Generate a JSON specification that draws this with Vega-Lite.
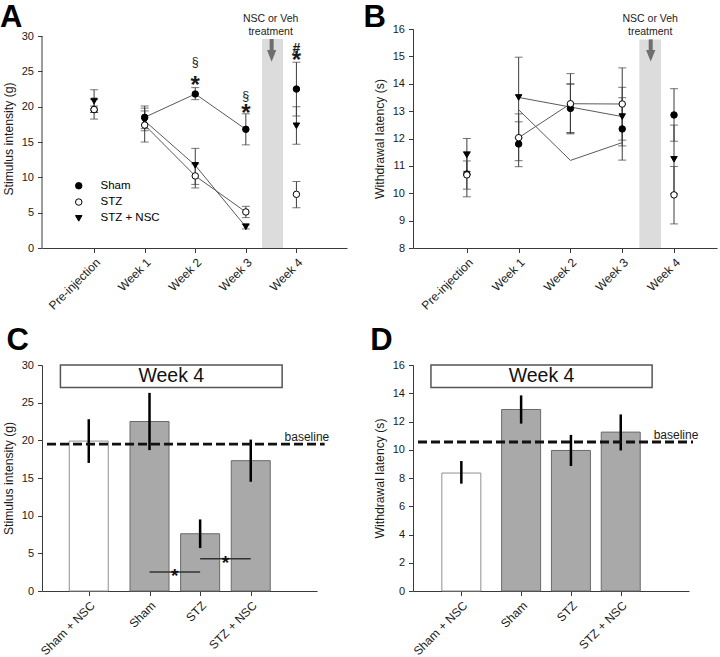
{
  "$schema": "https://vega.github.io/schema/vega-lite/v6.json",
  "autosize": {"type": "none"},
  "padding": {"left": 42, "top": 29, "right": 678, "bottom": 628},
  "background": "white",
  "config": {
    "font": "Liberation Sans",
    "view": {"stroke": null},
    "axis": {"grid": false, "domainColor": "#3a3a3a", "tickColor": "#3a3a3a", "labelColor": "#1a1a1a", "titleColor": "#1a1a1a", "labelFontSize": 11, "titleFontSize": 12.2, "titleFontWeight": "normal", "tickSize": 4.5, "labelPadding": 4, "titlePadding": 6, "domainWidth": 1, "tickWidth": 1, "labelOverlap": false, "tickCount": 20},
    "axisX": {"labelFontSize": 12},
    "axisY": {"format": "d"}
  },
  "resolve": {"scale": {"fill": "independent", "shape": "independent", "stroke": "independent"}, "legend": {"fill": "independent", "shape": "independent", "stroke": "independent"}},
  "datasets": {
    "A": [
      {"t": 1, "group": "STZ + NSC", "mean": 20.8, "lo": 19.2, "hi": 22.4},
      {"t": 2, "group": "STZ + NSC", "mean": 18.0, "lo": 16.6, "hi": 19.4},
      {"t": 3, "group": "STZ + NSC", "mean": 11.7, "lo": 9.0, "hi": 14.1},
      {"t": 4, "group": "STZ + NSC", "mean": 3.0, "lo": 2.7, "hi": 3.4},
      {"t": 5, "group": "STZ + NSC", "mean": 17.3, "lo": 14.7, "hi": 20.0},
      {"t": 1, "group": "Sham", "mean": 19.6, "lo": 19.2, "hi": 20.1},
      {"t": 2, "group": "Sham", "mean": 18.5, "lo": 16.9, "hi": 20.1},
      {"t": 3, "group": "Sham", "mean": 21.8, "lo": 21.0, "hi": 22.7},
      {"t": 4, "group": "Sham", "mean": 16.8, "lo": 14.6, "hi": 19.0},
      {"t": 5, "group": "Sham", "mean": 22.5, "lo": 18.7, "hi": 26.3},
      {"t": 1, "group": "STZ", "mean": 19.6, "lo": 18.25, "hi": 21.0},
      {"t": 2, "group": "STZ", "mean": 17.4, "lo": 15.0, "hi": 19.8},
      {"t": 3, "group": "STZ", "mean": 10.2, "lo": 8.5, "hi": 11.9},
      {"t": 4, "group": "STZ", "mean": 5.1, "lo": 4.3, "hi": 5.9},
      {"t": 5, "group": "STZ", "mean": 7.6, "lo": 5.7, "hi": 9.4}
    ],
    "Aann": [
      {"t": 3, "y": 26.2, "sym": "§"},
      {"t": 3, "y": 23.5, "sym": "*"},
      {"t": 4, "y": 21.4, "sym": "§"},
      {"t": 4, "y": 19.6, "sym": "*"},
      {"t": 5, "y": 28.3, "sym": "#"},
      {"t": 5, "y": 27.0, "sym": "*"}
    ],
    "B": [
      {"t": 1, "group": "STZ + NSC", "mean": 11.4, "lo": 10.8, "hi": 12.0},
      {"t": 2, "group": "STZ + NSC", "mean": 13.5, "lo": 12.03, "hi": 14.97},
      {"t": 3, "group": "STZ + NSC", "mean": 13.15, "lo": 12.2, "hi": 14.0},
      {"t": 4, "group": "STZ + NSC", "mean": 12.8, "lo": 11.73, "hi": 13.87},
      {"t": 5, "group": "STZ + NSC", "mean": 11.24, "lo": 9.99, "hi": 12.49},
      {"t": 1, "group": "Sham", "mean": 10.7, "lo": 9.87, "hi": 11.52},
      {"t": 2, "group": "Sham", "mean": 11.8, "lo": 10.97, "hi": 12.61},
      {"t": 3, "group": "Sham", "mean": 13.1, "lo": 12.22, "hi": 13.98},
      {"t": 4, "group": "Sham", "mean": 12.35, "lo": 11.21, "hi": 13.49},
      {"t": 5, "group": "Sham", "mean": 12.86, "lo": 11.9, "hi": 13.82},
      {"t": 1, "group": "STZ", "mean": 10.67, "lo": 10.15, "hi": 11.18},
      {"t": 2, "group": "STZ", "mean": 12.03, "lo": 11.19, "hi": 12.9},
      {"t": 3, "group": "STZ", "mean": 13.27, "lo": 12.17, "hi": 14.37},
      {"t": 4, "group": "STZ", "mean": 13.26, "lo": 11.94, "hi": 14.58},
      {"t": 5, "group": "STZ", "mean": 9.94, "lo": 8.88, "hi": 10.98}
    ],
    "Blines": [
      {"t": 2, "line": "STZ + NSC", "y": 13.5},
      {"t": 3, "line": "STZ + NSC", "y": 13.15},
      {"t": 4, "line": "STZ + NSC", "y": 12.8},
      {"t": 2, "line": "STZ", "y": 12.03},
      {"t": 3, "line": "STZ", "y": 13.27},
      {"t": 4, "line": "STZ", "y": 13.26},
      {"t": 2, "line": "Sham", "y": 13.05},
      {"t": 3, "line": "Sham", "y": 11.2},
      {"t": 4, "line": "Sham", "y": 11.85}
    ],
    "C": [
      {"group": "Sham + NSC", "pos": 0.8, "val": 19.9, "lo": 17.0, "hi": 22.8},
      {"group": "Sham", "pos": 2, "val": 22.5, "lo": 18.7, "hi": 26.3},
      {"group": "STZ", "pos": 3, "val": 7.6, "lo": 5.7, "hi": 9.5},
      {"group": "STZ + NSC", "pos": 4, "val": 17.3, "lo": 14.5, "hi": 20.1}
    ],
    "Csig": [
      {"from": 2, "to": 3, "mid": 2.5, "y": 2.52},
      {"from": 3, "to": 4, "mid": 3.5, "y": 4.29}
    ],
    "D": [
      {"group": "Sham + NSC", "pos": 0.8, "val": 8.35, "lo": 7.6, "hi": 9.2},
      {"group": "Sham", "pos": 2, "val": 12.85, "lo": 11.85, "hi": 13.85},
      {"group": "STZ", "pos": 3, "val": 9.95, "lo": 8.85, "hi": 11.05},
      {"group": "STZ + NSC", "pos": 4, "val": 11.25, "lo": 9.95, "hi": 12.5}
    ]
  },
  "columns": 2,
  "bounds": "flush",
  "align": "each",
  "spacing": {"row": 117, "column": 66},
  "concat": [
    {
      "width": 305, "height": 219,
      "layer": [
        {"data": {"values": [{}]}, "mark": {"type": "rect", "fill": "#dcdcdc"},
         "encoding": {
           "x": {"datum": 4.32, "type": "quantitative", "scale": {"domain": [-0.03, 6.0], "nice": false, "zero": false},
                 "axis": {"values": [1, 2, 3, 4, 5], "tickCount": 20, "labelExpr": "datum.value == 1 ? 'Pre-injection' : 'Week ' + (datum.value - 1)", "labelAngle": -45, "title": null}},
           "x2": {"datum": 4.735},
           "y": {"datum": 0, "type": "quantitative", "scale": {"domain": [0, 31], "nice": false, "zero": false},
                 "axis": {"values": [0, 5, 10, 15, 20, 25, 30], "tickCount": 20, "format": "d", "title": "Stimulus intensity (g)", "domain": false, "labelOverlap": false}},
           "y2": {"datum": 29.6}}},
        {"data": {"values": [{}]}, "mark": {"type": "rule", "color": "#3a3a3a", "strokeWidth": 1},
         "encoding": {"x": {"datum": -0.03, "type": "quantitative"}, "y": {"datum": 0, "type": "quantitative"}, "y2": {"datum": 30}}},
        {"data": {"name": "A"}, "transform": [{"filter": "datum.t >= 2 && datum.t <= 4"}],
         "mark": {"type": "line", "color": "#5a5a5a", "strokeWidth": 1},
         "encoding": {"x": {"field": "t", "type": "quantitative"}, "y": {"field": "mean", "type": "quantitative"}, "detail": {"field": "group"}}},
        {"data": {"name": "A"}, "mark": {"type": "rule", "color": "#3c3c3c", "strokeWidth": 1},
         "encoding": {"x": {"field": "t", "type": "quantitative"}, "y": {"field": "lo", "type": "quantitative"}, "y2": {"field": "hi"}}},
        {"data": {"name": "A"}, "mark": {"type": "tick", "orient": "horizontal", "size": 8, "thickness": 1, "color": "#3c3c3c"},
         "encoding": {"x": {"field": "t", "type": "quantitative"}, "y": {"field": "lo", "type": "quantitative"}}},
        {"data": {"name": "A"}, "mark": {"type": "tick", "orient": "horizontal", "size": 8, "thickness": 1, "color": "#3c3c3c"},
         "encoding": {"x": {"field": "t", "type": "quantitative"}, "y": {"field": "hi", "type": "quantitative"}}},
        {"data": {"name": "A"}, "mark": {"type": "point", "filled": true, "strokeWidth": 1, "size": 42, "opacity": 1},
         "encoding": {
           "x": {"field": "t", "type": "quantitative"},
           "y": {"field": "mean", "type": "quantitative"},
           "shape": {"field": "group", "type": "nominal", "scale": {"domain": ["Sham", "STZ", "STZ + NSC"], "range": ["circle", "circle", "triangle-down"]},
                     "legend": {"orient": "none", "legendX": 31, "legendY": 151, "title": null, "labelFontSize": 11.5, "labelColor": "black", "symbolSize": 42, "rowPadding": 3.3, "labelOffset": 16, "symbolStrokeWidth": 1}},
           "fill": {"field": "group", "type": "nominal", "scale": {"domain": ["Sham", "STZ", "STZ + NSC"], "range": ["black", "white", "black"]},
                    "legend": {"orient": "none", "legendX": 31, "legendY": 151, "title": null, "labelFontSize": 11.5, "labelColor": "black", "symbolSize": 42, "rowPadding": 3.3, "labelOffset": 16, "symbolStrokeWidth": 1}},
           "stroke": {"field": "group", "type": "nominal", "scale": {"domain": ["Sham", "STZ", "STZ + NSC"], "range": ["black", "black", "black"]},
                      "legend": {"orient": "none", "legendX": 31, "legendY": 151, "title": null, "labelFontSize": 11.5, "labelColor": "black", "symbolSize": 42, "rowPadding": 3.3, "labelOffset": 16, "symbolStrokeWidth": 1}}}},
        {"data": {"values": [{}]}, "mark": {"type": "rule", "color": "#6e6e6e", "strokeWidth": 4},
         "encoding": {"x": {"datum": 4.51, "type": "quantitative"}, "y": {"datum": 29.58, "type": "quantitative"}, "y2": {"datum": 27.9}}},
        {"data": {"values": [{}]}, "mark": {"type": "point", "shape": "M-1,-1.25L1,-1.25L0,1.25Z", "size": 86, "filled": true, "fill": "#6e6e6e", "strokeWidth": 0, "opacity": 1},
         "encoding": {"x": {"datum": 4.51, "type": "quantitative"}, "y": {"datum": 27.19, "type": "quantitative"}}},
        {"data": {"values": [{}]}, "mark": {"type": "text", "text": "NSC or Veh", "fontSize": 10.5, "baseline": "alphabetic", "align": "center", "color": "#222"},
         "encoding": {"x": {"datum": 4.49, "type": "quantitative"}, "y": {"datum": 31.99, "type": "quantitative"}}},
        {"data": {"values": [{}]}, "mark": {"type": "text", "text": "treatment", "fontSize": 10.5, "baseline": "alphabetic", "align": "center", "color": "#222"},
         "encoding": {"x": {"datum": 4.49, "type": "quantitative"}, "y": {"datum": 30.08, "type": "quantitative"}}},
        {"data": {"values": [{}]}, "mark": {"type": "text", "text": "A", "fontSize": 31, "fontWeight": "bold", "baseline": "alphabetic", "align": "left", "color": "black"},
         "encoding": {"x": {"datum": -0.86, "type": "quantitative"}, "y": {"datum": 31.28, "type": "quantitative"}}},
        {"data": {"name": "Aann"}, "transform": [{"filter": "datum.sym == '*'"}],
         "mark": {"type": "text", "fontSize": 24, "fontWeight": "bold", "baseline": "alphabetic", "dy": 11, "color": "#1a1a1a"},
         "encoding": {"x": {"field": "t", "type": "quantitative"}, "y": {"field": "y", "type": "quantitative"}, "text": {"field": "sym"}}},
        {"data": {"name": "Aann"}, "transform": [{"filter": "datum.sym == '§'"}],
         "mark": {"type": "text", "fontSize": 12.5, "baseline": "alphabetic", "dy": 3, "color": "#1a1a1a"},
         "encoding": {"x": {"field": "t", "type": "quantitative"}, "y": {"field": "y", "type": "quantitative"}, "text": {"field": "sym"}}},
        {"data": {"name": "Aann"}, "transform": [{"filter": "datum.sym == '#'"}],
         "mark": {"type": "text", "fontSize": 14, "fontWeight": "bold", "baseline": "alphabetic", "dy": 5, "color": "#1a1a1a"},
         "encoding": {"x": {"field": "t", "type": "quantitative"}, "y": {"field": "y", "type": "quantitative"}, "text": {"field": "sym"}}}
      ]
    },
    {
      "width": 304, "height": 219,
      "layer": [
        {"data": {"values": [{}]}, "mark": {"type": "rect", "fill": "#dcdcdc"},
         "encoding": {
           "x": {"datum": 4.33, "type": "quantitative", "scale": {"domain": [-0.04, 5.83], "nice": false, "zero": false},
                 "axis": {"values": [1, 2, 3, 4, 5], "tickCount": 20, "labelExpr": "datum.value == 1 ? 'Pre-injection' : 'Week ' + (datum.value - 1)", "labelAngle": -45, "title": null}},
           "x2": {"datum": 4.75},
           "y": {"datum": 8, "type": "quantitative", "scale": {"domain": [8, 16], "nice": false, "zero": false},
                 "axis": {"values": [8, 9, 10, 11, 12, 13, 14, 15, 16], "tickCount": 20, "format": "d", "title": "Withdrawal latency (s)", "labelOverlap": false}},
           "y2": {"datum": 15.62}}},
        {"data": {"name": "Blines"},
         "mark": {"type": "line", "color": "#5a5a5a", "strokeWidth": 1},
         "encoding": {"x": {"field": "t", "type": "quantitative"}, "y": {"field": "y", "type": "quantitative"}, "detail": {"field": "line"}}},
        {"data": {"name": "B"}, "mark": {"type": "rule", "color": "#3c3c3c", "strokeWidth": 1},
         "encoding": {"x": {"field": "t", "type": "quantitative"}, "y": {"field": "lo", "type": "quantitative"}, "y2": {"field": "hi"}}},
        {"data": {"name": "B"}, "mark": {"type": "tick", "orient": "horizontal", "size": 8, "thickness": 1, "color": "#3c3c3c"},
         "encoding": {"x": {"field": "t", "type": "quantitative"}, "y": {"field": "lo", "type": "quantitative"}}},
        {"data": {"name": "B"}, "mark": {"type": "tick", "orient": "horizontal", "size": 8, "thickness": 1, "color": "#3c3c3c"},
         "encoding": {"x": {"field": "t", "type": "quantitative"}, "y": {"field": "hi", "type": "quantitative"}}},
        {"data": {"name": "B"}, "mark": {"type": "point", "filled": true, "stroke": "black", "strokeWidth": 1, "size": 42, "opacity": 1},
         "encoding": {
           "x": {"field": "t", "type": "quantitative"},
           "y": {"field": "mean", "type": "quantitative"},
           "shape": {"field": "group", "type": "nominal", "scale": {"domain": ["Sham", "STZ", "STZ + NSC"], "range": ["circle", "circle", "triangle-down"]}, "legend": null},
           "fill": {"field": "group", "type": "nominal", "scale": {"domain": ["Sham", "STZ", "STZ + NSC"], "range": ["black", "white", "black"]}, "legend": null}}},
        {"data": {"values": [{}]}, "mark": {"type": "rule", "color": "#6e6e6e", "strokeWidth": 4},
         "encoding": {"x": {"datum": 4.55, "type": "quantitative"}, "y": {"datum": 15.62, "type": "quantitative"}, "y2": {"datum": 15.2}}},
        {"data": {"values": [{}]}, "mark": {"type": "point", "shape": "M-1,-1.25L1,-1.25L0,1.25Z", "size": 86, "filled": true, "fill": "#6e6e6e", "strokeWidth": 0, "opacity": 1},
         "encoding": {"x": {"datum": 4.55, "type": "quantitative"}, "y": {"datum": 15.02, "type": "quantitative"}}},
        {"data": {"values": [{}]}, "mark": {"type": "text", "text": "NSC or Veh", "fontSize": 10.5, "baseline": "alphabetic", "align": "center", "color": "#222"},
         "encoding": {"x": {"datum": 4.54, "type": "quantitative"}, "y": {"datum": 16.256, "type": "quantitative"}}},
        {"data": {"values": [{}]}, "mark": {"type": "text", "text": "treatment", "fontSize": 10.5, "baseline": "alphabetic", "align": "center", "color": "#222"},
         "encoding": {"x": {"datum": 4.54, "type": "quantitative"}, "y": {"datum": 15.763, "type": "quantitative"}}},
        {"data": {"values": [{}]}, "mark": {"type": "text", "text": "B", "fontSize": 31, "fontWeight": "bold", "baseline": "alphabetic", "align": "left", "color": "black"},
         "encoding": {"x": {"datum": -0.996, "type": "quantitative"}, "y": {"datum": 16.073, "type": "quantitative"}}}
      ]
    },
    {
      "width": 275, "height": 226,
      "layer": [
        {"data": {"name": "C"}, "mark": {"type": "bar", "width": 39, "strokeWidth": 1},
         "encoding": {
           "x": {"field": "pos", "type": "quantitative", "scale": {"domain": [-0.025, 5.21], "nice": false, "zero": false},
                 "axis": {"values": [0.8, 2, 3, 4], "tickCount": 20, "labelExpr": "datum.value < 1 ? 'Sham + NSC' : datum.value < 2.5 ? 'Sham' : datum.value < 3.5 ? 'STZ' : 'STZ + NSC'", "labelAngle": -45, "title": null, "labelFontSize": 12}},
           "y": {"field": "val", "type": "quantitative", "scale": {"domain": [0, 30], "nice": false},
                 "axis": {"values": [0, 5, 10, 15, 20, 25, 30], "tickCount": 20, "format": "d", "title": "Stimulus intensity (g)", "labelOverlap": false}},
           "fill": {"field": "group", "type": "nominal", "scale": {"domain": ["Sham + NSC", "Sham", "STZ", "STZ + NSC"], "range": ["white", "#a9a9a9", "#a9a9a9", "#a9a9a9"]}, "legend": null},
           "stroke": {"field": "group", "type": "nominal", "scale": {"domain": ["Sham + NSC", "Sham", "STZ", "STZ + NSC"], "range": ["#8f8f8f", "#6a6a6a", "#6a6a6a", "#6a6a6a"]}, "legend": null}}},
        {"data": {"name": "C"}, "mark": {"type": "rule", "color": "black", "strokeWidth": 2.5},
         "encoding": {"x": {"field": "pos", "type": "quantitative"}, "y": {"field": "lo", "type": "quantitative"}, "y2": {"field": "hi"}}},
        {"data": {"values": [{}]}, "mark": {"type": "rule", "color": "#111", "strokeWidth": 2.8, "strokeDash": [9, 4]},
         "encoding": {"x": {"datum": -0.025, "type": "quantitative"}, "x2": {"datum": 5.46}, "y": {"datum": 19.5, "type": "quantitative"}}},
        {"data": {"values": [{}]}, "mark": {"type": "text", "text": "baseline", "fontSize": 12, "baseline": "alphabetic", "align": "center", "color": "#1a1a1a"},
         "encoding": {"x": {"datum": 5.11, "type": "quantitative"}, "y": {"datum": 19.9, "type": "quantitative"}}},
        {"data": {"values": [{}]}, "mark": {"type": "rect", "fill": "white", "stroke": "#555555", "strokeWidth": 1.5},
         "encoding": {"x": {"datum": 0.24, "type": "quantitative"}, "x2": {"datum": 4.62}, "y": {"datum": 27.0, "type": "quantitative"}, "y2": {"datum": 30}}},
        {"data": {"values": [{}]}, "mark": {"type": "text", "text": "Week 4", "fontSize": 19.5, "baseline": "middle", "align": "center", "color": "#111"},
         "encoding": {"x": {"datum": 2.43, "type": "quantitative"}, "y": {"datum": 28.5, "type": "quantitative"}}},
        {"data": {"name": "Csig"}, "mark": {"type": "rule", "color": "#333", "strokeWidth": 1.5},
         "encoding": {"x": {"field": "from", "type": "quantitative"}, "x2": {"field": "to"}, "y": {"field": "y", "type": "quantitative"}}},
        {"data": {"name": "Csig"}, "mark": {"type": "text", "text": "*", "fontSize": 19, "fontWeight": "bold", "baseline": "alphabetic", "align": "center", "dy": 10, "color": "#111"},
         "encoding": {"x": {"field": "mid", "type": "quantitative"}, "y": {"field": "y", "type": "quantitative"}}},
        {"data": {"values": [{}]}, "mark": {"type": "text", "text": "C", "fontSize": 31, "fontWeight": "bold", "baseline": "alphabetic", "align": "left", "color": "black"},
         "encoding": {"x": {"datum": -0.825, "type": "quantitative"}, "y": {"datum": 31.99, "type": "quantitative"}}}
      ]
    },
    {
      "width": 276, "height": 226,
      "layer": [
        {"data": {"name": "D"}, "mark": {"type": "bar", "width": 39, "strokeWidth": 1},
         "encoding": {
           "x": {"field": "pos", "type": "quantitative", "scale": {"domain": [-0.07, 5.27], "nice": false, "zero": false},
                 "axis": {"values": [0.8, 2, 3, 4], "tickCount": 20, "labelExpr": "datum.value < 1 ? 'Sham + NSC' : datum.value < 2.5 ? 'Sham' : datum.value < 3.5 ? 'STZ' : 'STZ + NSC'", "labelAngle": -45, "title": null, "labelFontSize": 12}},
           "y": {"field": "val", "type": "quantitative", "scale": {"domain": [0, 16], "nice": false},
                 "axis": {"values": [0, 2, 4, 6, 8, 10, 12, 14, 16], "tickCount": 20, "format": "d", "title": "Withdrawal latency (s)", "labelOverlap": false}},
           "fill": {"field": "group", "type": "nominal", "scale": {"domain": ["Sham + NSC", "Sham", "STZ", "STZ + NSC"], "range": ["white", "#a9a9a9", "#a9a9a9", "#a9a9a9"]}, "legend": null},
           "stroke": {"field": "group", "type": "nominal", "scale": {"domain": ["Sham + NSC", "Sham", "STZ", "STZ + NSC"], "range": ["#8f8f8f", "#6a6a6a", "#6a6a6a", "#6a6a6a"]}, "legend": null}}},
        {"data": {"name": "D"}, "mark": {"type": "rule", "color": "black", "strokeWidth": 2.5},
         "encoding": {"x": {"field": "pos", "type": "quantitative"}, "y": {"field": "lo", "type": "quantitative"}, "y2": {"field": "hi"}}},
        {"data": {"values": [{}]}, "mark": {"type": "rule", "color": "#111", "strokeWidth": 2.8, "strokeDash": [9, 4]},
         "encoding": {"x": {"datum": -0.07, "type": "quantitative"}, "x2": {"datum": 5.45}, "y": {"datum": 10.55, "type": "quantitative"}}},
        {"data": {"values": [{}]}, "mark": {"type": "text", "text": "baseline", "fontSize": 12, "baseline": "alphabetic", "align": "center", "color": "#1a1a1a"},
         "encoding": {"x": {"datum": 5.11, "type": "quantitative"}, "y": {"datum": 10.76, "type": "quantitative"}}},
        {"data": {"values": [{}]}, "mark": {"type": "rect", "fill": "white", "stroke": "#555555", "strokeWidth": 1.5},
         "encoding": {"x": {"datum": 0.19, "type": "quantitative"}, "x2": {"datum": 4.63}, "y": {"datum": 14.4, "type": "quantitative"}, "y2": {"datum": 16}}},
        {"data": {"values": [{}]}, "mark": {"type": "text", "text": "Week 4", "fontSize": 19.5, "baseline": "middle", "align": "center", "color": "#111"},
         "encoding": {"x": {"datum": 2.41, "type": "quantitative"}, "y": {"datum": 15.2, "type": "quantitative"}}},
        {"data": {"values": [{}]}, "mark": {"type": "text", "text": "D", "fontSize": 31, "fontWeight": "bold", "baseline": "alphabetic", "align": "left", "color": "black"},
         "encoding": {"x": {"datum": -1.028, "type": "quantitative"}, "y": {"datum": 17.06, "type": "quantitative"}}}
      ]
    }
  ]
}
